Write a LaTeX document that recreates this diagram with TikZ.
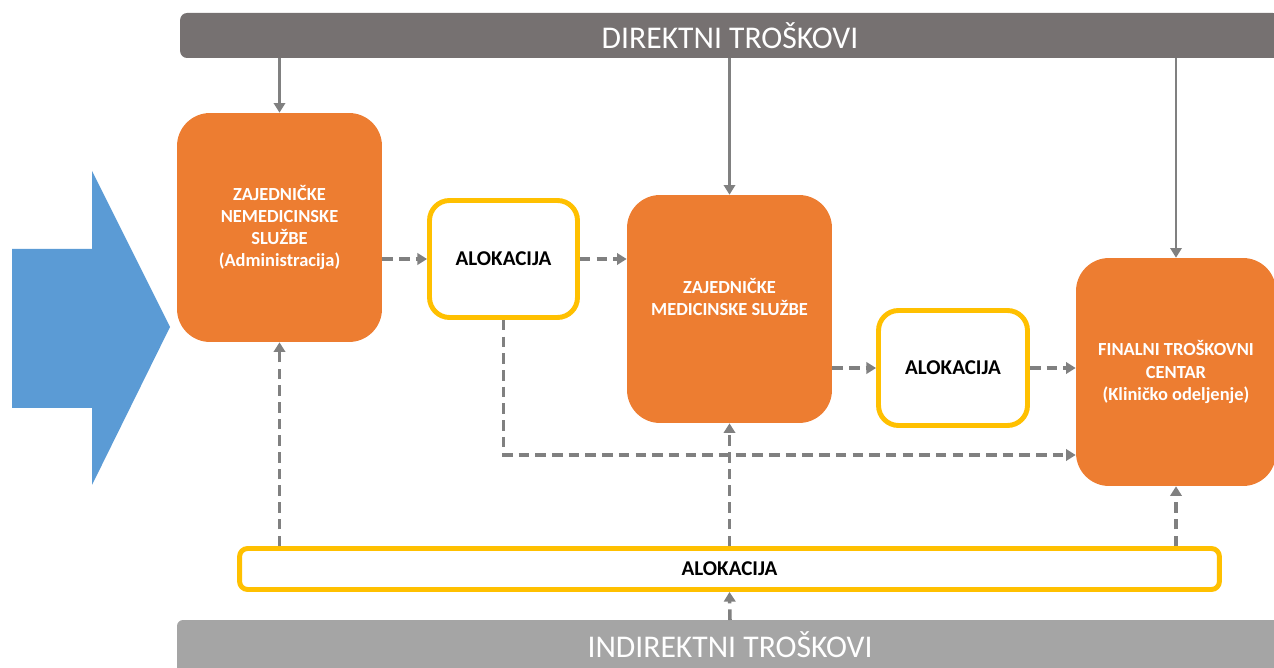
\documentclass[tikz,border=0pt]{standalone}
\usepackage{fontspec}
\setmainfont{Carlito}
\usepackage{tikz}
\usetikzlibrary{arrows.meta}
\definecolor{narandz}{HTML}{ED7D31}
\definecolor{zuta}{HTML}{FFC000}
\definecolor{plava}{HTML}{5B9BD5}
\definecolor{tamnosiva}{HTML}{767171}
\definecolor{svetlosiva}{HTML}{A5A5A5}
\definecolor{strelica}{HTML}{808080}

\begin{document}
\begin{tikzpicture}[x=0.02cm,y=-0.02cm,
  traka/.style={rounded corners=0.14cm, text=white, inner sep=0pt, font=\fontsize{18}{20}\selectfont},
  sluzba/.style={fill=narandz, rounded corners=0.66cm, text=white, align=center, inner sep=0pt, font=\bfseries\fontsize{10.5}{12.6}\selectfont},
  sluzbatekst/.style={text=white, align=center, inner sep=0pt, font=\bfseries\fontsize{10.5}{12.6}\selectfont},
  alok/.style={draw=zuta, line width=2.8pt, fill=white, rounded corners=0.4cm, inner sep=0pt, font=\bfseries\fontsize{12}{14}\selectfont},
  pun/.style={draw=strelica, line width=1.2pt, -{Triangle[length=5.5pt,width=6.5pt]}},
  isp/.style={pun, line width=2pt, dash pattern=on 6pt off 3.5pt}
]
\useasboundingbox (0,0) rectangle (1274,668);
\fill[plava] (12,249) -- (92,249) -- (92,171) -- (170,327) -- (92,485) -- (92,408) -- (12,408) -- cycle;
\node[traka, fill=tamnosiva, minimum width=22cm, minimum height=0.9cm] (direkt) at (730,35.5) {DIREKTNI TROŠKOVI};
\fill[svetlosiva, rounded corners=0.12cm] (177,620) rectangle (1290,700);
\node[traka] (indirekt) at (730,645) {INDIREKTNI TROŠKOVI};
\coordinate (indirektvrh) at (730,620);
\node[sluzba, minimum width=4.1cm, minimum height=4.58cm] (nemed) at (279.5,227.5) {ZAJEDNIČKE\\NEMEDICINSKE\\SLUŽBE\\(Administracija)};
\node[sluzba, minimum width=4.1cm, minimum height=4.56cm] (med) at (729.5,309) {};
\node[sluzbatekst] (medtekst) at ([yshift=0.24cm]med.center) {ZAJEDNIČKE\\MEDICINSKE SLUŽBE};
\node[sluzba, minimum width=4cm, minimum height=4.56cm] (final) at (1176,372) {FINALNI TROŠKOVNI\\CENTAR\\(Kliničko odeljenje)};
\node[alok, minimum width=2.96cm, minimum height=2.34cm] (alok1) at (503.5,259) {ALOKACIJA};
\node[alok, minimum width=2.98cm, minimum height=2.3cm] (alok2) at (953,368) {ALOKACIJA};
\node[alok, rounded corners=0.16cm, minimum width=19.6cm, minimum height=0.82cm] (alok3) at (729.5,569) {ALOKACIJA};
\coordinate (lom) at (503.5,455);

\draw[pun] (direkt.south -| nemed) -- (nemed.north);
\draw[pun] (direkt.south -| med) -- (med.north);
\draw[pun] (direkt.south -| final) -- (final.north);
\draw[isp] (nemed.east |- alok1) -- (alok1.west);
\draw[isp] (alok1.east) -- (alok1 -| med.west);
\draw[isp] (med.east |- alok2) -- (alok2.west);
\draw[isp] (alok2.east) -- (alok2 -| final.west);
\draw[isp] (alok1.south) -- (lom) -- (lom -| final.west);
\draw[isp] (alok3.north -| nemed) -- (nemed.south);
\draw[isp] (alok3.north -| med) -- (med.south);
\draw[isp] (alok3.north -| final) -- (final.south);
\draw[isp] (indirektvrh) -- (alok3.south);
\end{tikzpicture}
\end{document}
